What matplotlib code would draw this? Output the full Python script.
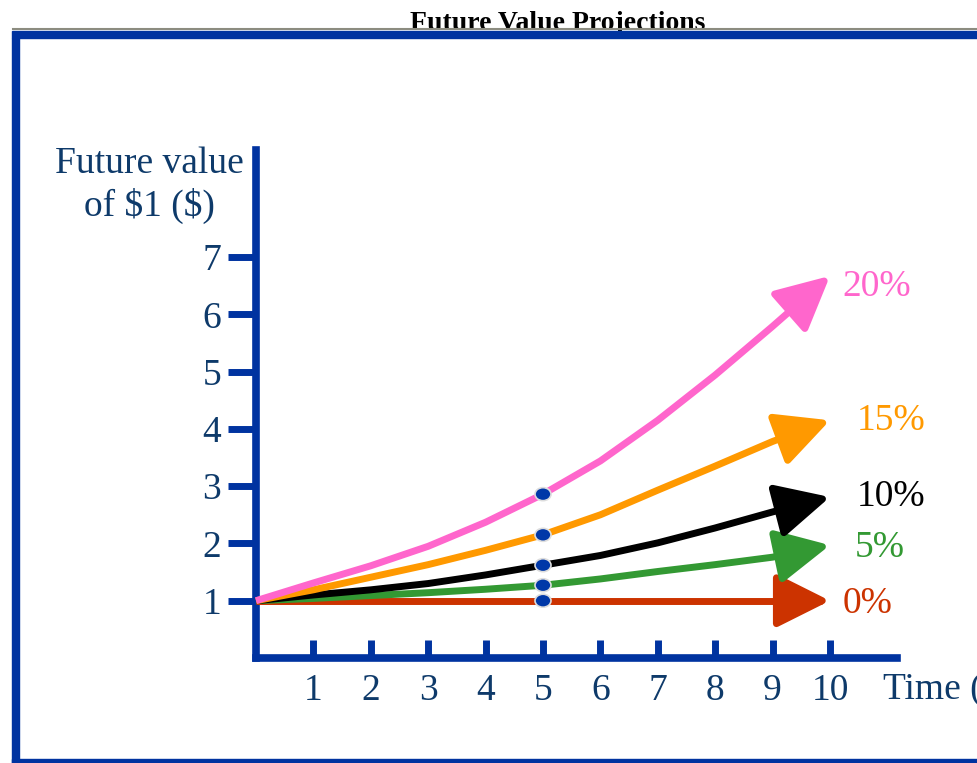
import matplotlib
matplotlib.use("Agg")
import matplotlib.pyplot as plt
from matplotlib.patches import FancyArrowPatch, Ellipse, Rectangle
from matplotlib.path import Path
from matplotlib.lines import Line2D

# values (future value of $1 at each year)
years = [0, 1, 2, 3, 4, 5, 6, 7, 8, 9, 10]
rate_labels = ["0%", "5%", "10%", "15%", "20%"]
fv_0 = [1.00, 1.00, 1.00, 1.00, 1.00, 1.00, 1.00, 1.00, 1.00, 1.00, 1.00]
fv_5 = [1.00, 1.04, 1.09, 1.14, 1.20, 1.27, 1.38, 1.51, 1.63, 1.76, 1.97]
fv_10 = [1.00, 1.10, 1.19, 1.30, 1.45, 1.62, 1.79, 2.01, 2.27, 2.55, 2.81]
fv_15 = [1.00, 1.19, 1.41, 1.63, 1.88, 2.15, 2.50, 2.93, 3.35, 3.78, 4.15]
fv_20 = [1.00, 1.31, 1.61, 1.95, 2.37, 2.86, 3.44, 4.15, 4.94, 5.79, 6.67]
x_ticks = [1, 2, 3, 4, 5, 6, 7, 8, 9, 10]
y_ticks = [1, 2, 3, 4, 5, 6, 7]
marked_year = 5

series = [fv_0, fv_5, fv_10, fv_15, fv_20]
colors = ["#CC3300", "#339933", "#000000", "#FF9900", "#FF66CC"]
# label offset from the arrow tip, in points
label_off = [(9, -2), (18, -2), (19, 0), (19, 0), (9, -8)]

BLUE = "#0033A0"
NAVY = "#0E3A6A"
W, H = 977, 763

plt.rcParams["font.family"] = ["Liberation Serif", "DejaVu Serif"]

fig = plt.figure(figsize=(W / 100, H / 100), dpi=100)
fig.patch.set_facecolor("white")


def fx(px):
    return px / W


def fy(py):
    return 1 - py / H


# title, partly hidden behind the frame bar
fig.text(fx(558), fy(30), "Future Value Projections", ha="center", va="baseline",
         fontsize=20, fontweight="bold", color="black", zorder=1)

# slide frame
fig.add_artist(Line2D([fx(13), 1], [fy(28.5), fy(28.5)], color="#8C8C80", lw=1.5, zorder=5))
fig.add_artist(Rectangle((fx(12), fy(38)), 1 - fx(12), fy(31) - fy(38),
                         transform=fig.transFigure, color=BLUE, zorder=6))
fig.add_artist(Rectangle((fx(12), 0), fx(19) - fx(12), fy(38),
                         transform=fig.transFigure, color=BLUE, zorder=6))
fig.add_artist(Rectangle((fx(12), 0), 1 - fx(12), fy(759),
                         transform=fig.transFigure, color=BLUE, zorder=6))

ax = fig.add_axes([fx(256), fy(658), (830 - 256) / W, (658 - 257) / H])
ax.set_xlim(0, 10)
ax.set_ylim(0, 7)
for s in ax.spines.values():
    s.set_visible(False)
ax.patch.set_alpha(0)

ax.set_xticks(x_ticks)
ax.set_xticklabels([str(t) for t in x_ticks])
ax.set_yticks(y_ticks)
ax.set_yticklabels([str(t) for t in y_ticks])
ax.tick_params(axis="x", direction="in", length=13, width=5, color=BLUE,
               pad=11, labelsize=27, labelcolor=NAVY)
ax.tick_params(axis="y", direction="out", length=20, width=5, color=BLUE,
               pad=5, labelsize=27, labelcolor=NAVY)

# axis lines running past the plotted range
ax.plot([0, 0], [0, 8.87], color=BLUE, lw=5.5, clip_on=False,
        solid_capstyle="projecting", zorder=2)
ax.plot([0, 11.17], [0, 0], color=BLUE, lw=5.5, clip_on=False,
        solid_capstyle="projecting", zorder=2)

for vals, c, lab, off in zip(series, colors, rate_labels, label_off):
    verts = list(zip(years, vals))
    arrow = FancyArrowPatch(path=Path(verts),
                            arrowstyle="-|>,head_length=3.3,head_width=1.65",
                            mutation_scale=10, color=c, lw=5,
                            joinstyle="round", capstyle="butt",
                            clip_on=False, zorder=3)
    ax.add_patch(arrow)
    ax.annotate(lab, xy=(years[-1], vals[-1]), xytext=off, textcoords="offset points",
                ha="left", va="center", fontsize=27, color=c, annotation_clip=False)
    i = years.index(marked_year)
    ax.add_patch(Ellipse((years[i], vals[i]), width=16 / 57.4, height=13 / 57.3,
                         facecolor="#0038A8", edgecolor="#DDDDDD", lw=1.2,
                         zorder=5, clip_on=False))

fig.text(fx(149), fy(185), "Future value\nof \\$1 (\\$)", ha="center", va="center",
         fontsize=27, color=NAVY, linespacing=1.25)
# the axis title runs past the right edge of the slide, as in the original
fig.text(fx(883), fy(690), "Time (years)", ha="left", va="center",
         fontsize=27, color=NAVY)

fig.savefig("out.png", dpi=100)
